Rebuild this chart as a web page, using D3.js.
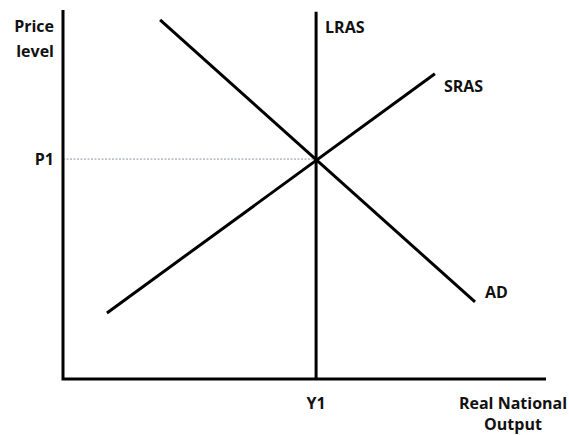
<!DOCTYPE html>
<html>
<head>
<meta charset="utf-8">
<script src="https://cdn.jsdelivr.net/npm/d3@7"></script>
<style>
  body { margin: 0; background: #fff; }
  text { font-family: "Open Sans", Lato, sans-serif; font-weight: bold; font-size: 16px; fill: #111; }
</style>
</head>
<body>
<div id="graph"></div>
<script>
// curve end points, in index units (0-100 on both axes)
var adCurve = [{x: 20.1, y: 97.3}, {x: 85.3, y: 20.9}];
var srasCurve = [{x: 9.1, y: 17.9}, {x: 77.0, y: 82.7}];
var lrasCurve = [{x: 52.4, y: 0}, {x: 52.4, y: 99.5}];
var equilibrium = {x: 52.4, y: 59.6};
var curveLabels = ["AD", "SRAS", "LRAS"];
var tickLabels = {price: "P1", output: "Y1"};

var w = 569;
var h = 435;

var svg = d3.select("#graph")
    .append("svg")
    .attr("width", w)
    .attr("height", h);

var x = d3.scaleLinear().domain([0, 100]).range([63, 546]);
var y = d3.scaleLinear().domain([0, 100]).range([379, 10]);

var line = d3.line()
    .x(function (d) { return x(d.x); })
    .y(function (d) { return y(d.y); });

// dotted guide to P1
svg.append("line")
    .attr("x1", x(0))
    .attr("x2", x(equilibrium.x))
    .attr("y1", y(equilibrium.y))
    .attr("y2", y(equilibrium.y))
    .attr("stroke", "#6f7888")
    .attr("stroke-width", 0.8)
    .attr("stroke-dasharray", "2,1.5");

// axes
svg.append("path")
    .attr("d", line([{x: 0, y: 100}, {x: 0, y: 0}, {x: 100, y: 0}]))
    .attr("fill", "none")
    .attr("stroke", "#000")
    .attr("stroke-width", 3);

// curves
[adCurve, srasCurve, lrasCurve].forEach(function (c) {
    svg.append("path")
        .attr("d", line(c))
        .attr("fill", "none")
        .attr("stroke", "#000")
        .attr("stroke-width", 3);
});

// curve labels
svg.append("text").attr("x", x(adCurve[1].x) + 10).attr("y", y(adCurve[1].y) - 4).text(curveLabels[0]);
svg.append("text").attr("x", x(srasCurve[1].x) + 9).attr("y", y(srasCurve[1].y) + 18).text(curveLabels[1]);
svg.append("text").attr("x", x(lrasCurve[1].x) + 9).attr("y", 33).text(curveLabels[2]);

// tick labels
svg.append("text").attr("x", 54).attr("y", y(equilibrium.y) + 6)
    .attr("text-anchor", "end").text(tickLabels.price);
svg.append("text").attr("x", x(equilibrium.x)).attr("y", 409)
    .attr("text-anchor", "middle").text(tickLabels.output);

// axis titles
var yTitle = svg.append("text").attr("text-anchor", "end");
yTitle.append("tspan").attr("x", 54).attr("y", 32).text("Price");
yTitle.append("tspan").attr("x", 54).attr("y", 57).text("level");

var xTitle = svg.append("text").attr("text-anchor", "middle");
xTitle.append("tspan").attr("x", 513).attr("y", 409).text("Real National");
xTitle.append("tspan").attr("x", 513).attr("y", 430).text("Output");
</script>
</body>
</html>
